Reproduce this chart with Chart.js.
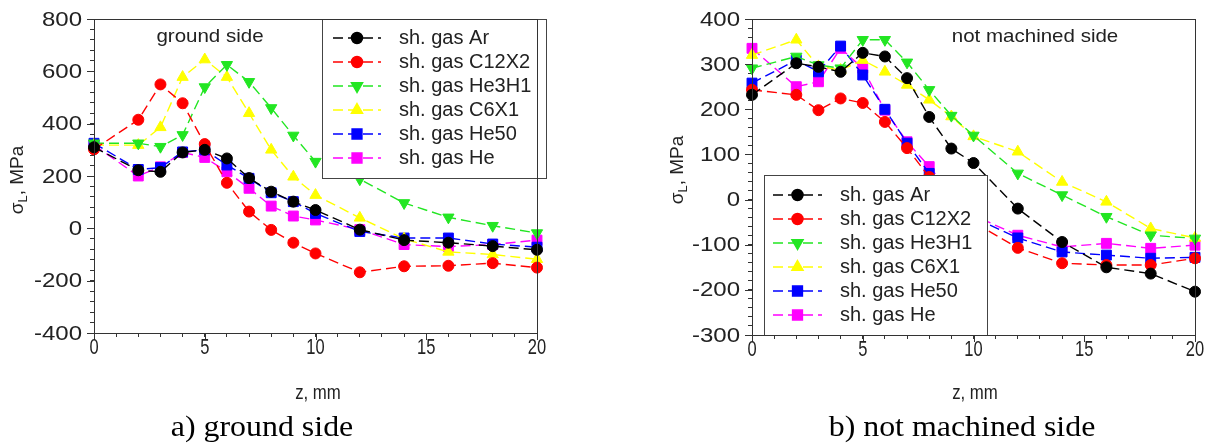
<!DOCTYPE html>
<html lang="en">
<head>
    <meta charset="UTF-8">
    <script src="https://cdn.jsdelivr.net/npm/chart.js@4.4.0/dist/chart.umd.min.js"></script>
    <title>Longitudinal stress</title>
    <style>
        body { margin: 0; background: white; width: 1211px; height: 443px; position: relative; overflow: hidden; }
        canvas { position: absolute; top: 0; }
        #groundChart { left: 0; }
        #notMachinedChart { left: 600px; }
    </style>
</head>
<body>
    <canvas id="groundChart" width="600" height="443"></canvas>
    <canvas id="notMachinedChart" width="611" height="443"></canvas>
<script>
    // distance from surface, mm
    var z = [0, 2, 3, 4, 5, 6, 7, 8, 9, 10, 12, 14, 16, 18, 20];
    var seriesNames = ['sh. gas Ar', 'sh. gas C12X2', 'sh. gas He3H1', 'sh. gas C6X1', 'sh. gas He50', 'sh. gas He'];

    // a) ground side, MPa
    var groundAr    = [310, 222, 216, 290, 300, 267, 192, 140, 102, 70, -5, -45, -55, -68, -82];
    var groundC12X2 = [302, 415, 550, 478, 322, 174, 64, -6, -55, -96, -168, -145, -143, -133, -150];
    var groundHe3H1 = [325, 325, 312, 357, 540, 625, 560, 460, 355, 255, 188, 97, 42, 10, -18];
    var groundC6X1  = [318, 318, 386, 578, 645, 578, 440, 300, 197, 127, 40, -40, -90, -100, -118];
    var groundHe50  = [325, 225, 232, 292, 300, 242, 191, 136, 102, 57, -12, -37, -37, -60, -72];
    var groundHe    = [318, 200, 235, 290, 271, 216, 153, 85, 47, 32, -5, -62, -70, -62, -45];

    // b) not machined side, MPa
    var notMachAr    = [232, 302, 294, 283, 325, 317, 269, 183, 113, 81, -20, -94, -150, -164, -204];
    var notMachC12X2 = [243, 232, 198, 224, 214, 172, 114, 50, 0, -50, -107, -141, -145, -145, -130];
    var notMachHe3H1 = [291, 317, 298, 291, 354, 354, 304, 243, 186, 142, 58, 10, -38, -79, -86];
    var notMachC6X1  = [320, 354, 295, 287, 309, 283, 254, 221, 184, 140, 106, 39, -5, -64, -85];
    var notMachHe50  = [258, 309, 283, 340, 276, 200, 125, 58, 5, -40, -85, -116, -123, -130, -128];
    var notMachHe    = [335, 250, 261, 335, 291, 198, 128, 73, 15, -35, -79, -105, -97, -108, -101];

    var colors = ['#000000', '#ff0000', '#22e622', '#ffff00', '#0000ff', '#ff00ff'];
    var styles = [
        { pointStyle: 'circle', rotation: 0, radius: 5.5 },
        { pointStyle: 'circle', rotation: 0, radius: 5.5 },
        { pointStyle: 'triangle', rotation: 180, radius: 6.5 },
        { pointStyle: 'triangle', rotation: 0, radius: 6.5 },
        { pointStyle: 'rect', rotation: 0, radius: 7 },
        { pointStyle: 'rect', rotation: 0, radius: 7 }
    ];

    function makeDatasets(seriesValues) {
        return seriesValues.map((vals, i) => ({
            label: seriesNames[i],
            data: z.map((x, j) => ({ x: x, y: vals[j] })),
            borderColor: colors[i],
            backgroundColor: colors[i],
            borderWidth: 1.4,
            borderDash: [10, 5],
            pointStyle: styles[i].pointStyle,
            rotation: styles[i].rotation,
            pointRadius: styles[i].radius,
            pointBorderWidth: 1,
            tension: 0,
            clip: false
        }));
    }

    function stretchText(ctx, text, x, y, font, sx, align) {
        ctx.save();
        ctx.font = font;
        ctx.textBaseline = 'middle';
        ctx.textAlign = 'left';
        var w = ctx.measureText(text).width * sx;
        var x0 = align === 'center' ? x - w / 2 : (align === 'right' ? x - w : x);
        ctx.translate(x0, y);
        ctx.scale(sx, 1);
        ctx.fillText(text, 0, 0);
        ctx.restore();
    }

    var deco = {
        id: 'deco',
        afterDatasetsDraw(chart, args, o) {
            var ctx = chart.ctx;
            // legend box inside plot
            var b = o.legend;
            ctx.save();
            ctx.fillStyle = 'white';
            ctx.fillRect(b.x, b.y, b.w, b.h);
            ctx.strokeStyle = '#444';
            ctx.lineWidth = 1;
            ctx.strokeRect(b.x + 0.5, b.y + 0.5, b.w, b.h);
            chart.data.datasets.forEach((ds, i) => {
                var ry = b.row0 + i * 24;
                ctx.strokeStyle = ds.borderColor;
                ctx.lineWidth = 1.4;
                ctx.setLineDash([10, 5]);
                ctx.beginPath();
                ctx.moveTo(b.lineX0, ry);
                ctx.lineTo(b.lineX1, ry);
                ctx.stroke();
                ctx.setLineDash([]);
                ctx.fillStyle = ds.backgroundColor;
                Chart.helpers.drawPoint(ctx, {
                    pointStyle: ds.pointStyle, rotation: ds.rotation,
                    radius: ds.pointRadius, borderWidth: 1
                }, (b.lineX0 + b.lineX1) / 2, ry);
                ctx.fillStyle = '#222';
                stretchText(ctx, ds.label, b.textX, ry, '20px "Liberation Sans", Arial, sans-serif', 1, 'left');
            });
            ctx.restore();
        },
        afterDraw(chart, args, o) {
            var ctx = chart.ctx;
            var a = chart.chartArea;
            var xs = chart.scales.x, ys = chart.scales.y;
            ctx.save();
            ctx.strokeStyle = '#333';
            ctx.lineWidth = 1;
            ctx.strokeRect(a.left + 0.5, a.top + 0.5, a.right - a.left, a.bottom - a.top);
            // longer major ticks
            ctx.beginPath();
            o.yMajor.forEach(v => {
                var py = Math.round(ys.getPixelForValue(v)) + 0.5;
                ctx.moveTo(a.left - 7, py); ctx.lineTo(a.left, py);
            });
            o.xMajor.forEach(v => {
                var px = Math.round(xs.getPixelForValue(v)) + 0.5;
                ctx.moveTo(px, a.bottom); ctx.lineTo(px, a.bottom + 7);
            });
            ctx.stroke();
            ctx.fillStyle = '#222';
            o.yMajor.forEach(v => {
                stretchText(ctx, String(v), a.left - 12, ys.getPixelForValue(v) + 1, '20px "Liberation Sans", Arial, sans-serif', 1.2, 'right');
            });
            o.xMajor.forEach(v => {
                stretchText(ctx, String(v), xs.getPixelForValue(v), a.bottom + 15, '22px "Liberation Sans", Arial, sans-serif', 0.75, 'center');
            });
            // in-plot title
            stretchText(ctx, o.title.text, o.title.x, o.title.y, '19px "Liberation Sans", Arial, sans-serif', 1.08, 'center');
            // x axis title and caption
            stretchText(ctx, 'z, mm', o.xTitle.x, o.xTitle.y, '21px "Liberation Sans", Arial, sans-serif', 0.8, 'center');
            ctx.fillStyle = '#000';
            stretchText(ctx, o.caption.text, o.caption.x, o.caption.y, '29px "Liberation Serif", "Times New Roman", serif', 1.1, 'center');
            // y axis title with subscript
            ctx.fillStyle = '#222';
            ctx.translate(o.yTitle.x, o.yTitle.y);
            ctx.rotate(-Math.PI / 2);
            ctx.textBaseline = 'middle';
            var big = '19px "Liberation Sans", Arial, sans-serif', small = '13px "Liberation Sans", Arial, sans-serif';
            ctx.font = big;
            var w1 = ctx.measureText('σ').width, w3 = ctx.measureText(', MPa').width;
            ctx.font = small;
            var w2 = ctx.measureText('L').width;
            var x0 = -(w1 + w2 + w3) / 2;
            ctx.font = big; ctx.fillText('σ', x0, 0);
            ctx.font = small; ctx.fillText('L', x0 + w1, 5);
            ctx.font = big; ctx.fillText(', MPa', x0 + w1 + w2, 0);
            ctx.restore();
        }
    };

    function makeChart(id, seriesValues, yMin, yMax, yMinor, yMajorStep, padRight, yWidth, xHeight, decoOpts) {
        var yMajor = [];
        for (var v = yMin; v <= yMax; v += yMajorStep) yMajor.push(v);
        decoOpts.yMajor = yMajor;
        decoOpts.xMajor = [0, 5, 10, 15, 20];
        return new Chart(document.getElementById(id).getContext('2d'), {
            type: 'line',
            data: { datasets: makeDatasets(seriesValues) },
            options: {
                animation: false,
                responsive: false,
                devicePixelRatio: 1,
                layout: { padding: { top: 19, right: padRight, left: 0, bottom: 0 } },
                plugins: {
                    legend: { display: false },
                    tooltip: { enabled: false },
                    deco: decoOpts
                },
                scales: {
                    x: {
                        type: 'linear', min: 0, max: 20,
                        ticks: { display: false, stepSize: 1, autoSkip: false },
                        grid: { display: true, drawOnChartArea: false, drawTicks: true, tickLength: 4, color: '#333' },
                        border: { display: true, color: '#333', width: 1 },
                        afterFit(s) { s.height = xHeight; }
                    },
                    y: {
                        min: yMin, max: yMax,
                        ticks: { display: false, stepSize: yMinor, autoSkip: false },
                        grid: { display: true, drawOnChartArea: false, drawTicks: true, tickLength: 4, color: '#333' },
                        border: { display: true, color: '#333', width: 1 },
                        afterFit(s) { s.width = yWidth; }
                    }
                }
            },
            plugins: [deco]
        });
    }

    var groundChart = makeChart('groundChart',
        [groundAr, groundC12X2, groundHe3H1, groundC6X1, groundHe50, groundHe],
        -400, 800, 40, 200, 63, 94, 110, {
            legend: { x: 322, y: 19, w: 224, h: 159, row0: 38, lineX0: 333, lineX1: 381, textX: 399 },
            title: { text: 'ground side', x: 210, y: 37 },
            xTitle: { x: 318, y: 393 },
            caption: { text: 'a) ground side', x: 262, y: 428 },
            yTitle: { x: 18, y: 180 }
        });

    var notMachinedChart = makeChart('notMachinedChart',
        [notMachAr, notMachC12X2, notMachHe3H1, notMachC6X1, notMachHe50, notMachHe],
        -300, 400, 20, 100, 16, 152, 108, {
            legend: { x: 164, y: 175, w: 223, h: 160, row0: 195, lineX0: 173, lineX1: 222, textX: 240 },
            title: { text: 'not machined side', x: 435, y: 37 },
            xTitle: { x: 375, y: 393 },
            caption: { text: 'b) not machined side', x: 362, y: 428 },
            yTitle: { x: 78, y: 170 }
        });
</script>
</body>
</html>
